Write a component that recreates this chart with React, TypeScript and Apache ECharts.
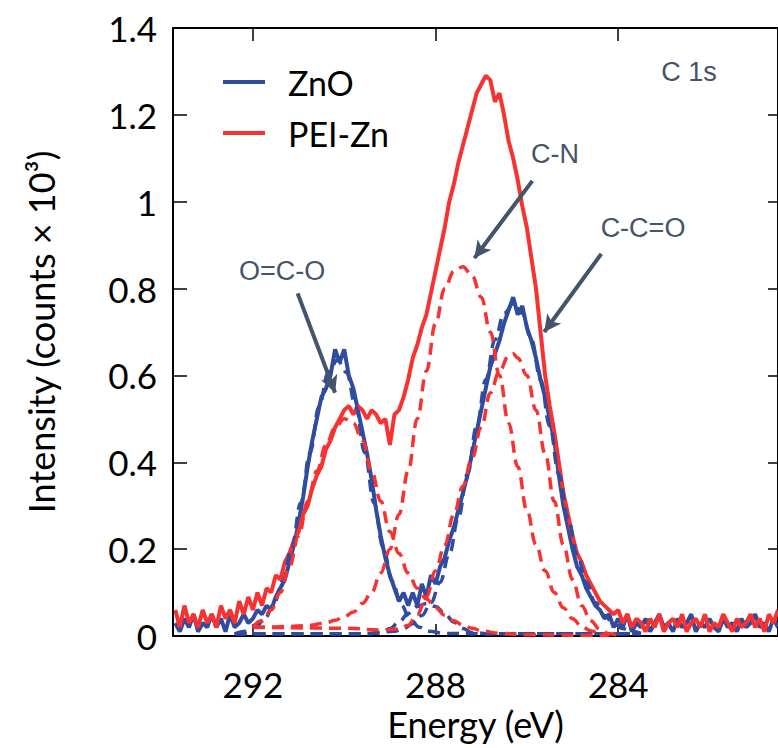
import React, { useEffect, useRef } from "react";
import * as echarts from "echarts";

// Energy grid of the measured spectra (eV), descending
const E_START = 293.7;
const E_STEP = 0.1;

const ZNO_COUNTS = [
  0.03, 0.01, 0.04, 0.02, 0.05, 0.01, 0.03, 0.02, 0.05, 0.02,
  0.04, 0.01, 0.05, 0.02, 0.03, 0.05, 0.03, 0.04, 0.06, 0.05,
  0.07, 0.06, 0.09, 0.11, 0.13, 0.17, 0.21, 0.26, 0.32, 0.39,
  0.45, 0.5, 0.55, 0.57, 0.6, 0.66, 0.63, 0.66, 0.6, 0.57,
  0.52, 0.47, 0.42, 0.36, 0.29, 0.23, 0.18, 0.14, 0.11, 0.08,
  0.1, 0.07, 0.1, 0.07, 0.12, 0.09, 0.14, 0.12, 0.16, 0.18,
  0.22, 0.25, 0.29, 0.33, 0.37, 0.42, 0.47, 0.52, 0.57, 0.62,
  0.65, 0.68, 0.72, 0.75, 0.78, 0.74, 0.76, 0.71, 0.68, 0.64,
  0.59, 0.55, 0.5, 0.45, 0.37, 0.3, 0.25, 0.2, 0.16, 0.14,
  0.11, 0.09, 0.07, 0.06, 0.04, 0.05, 0.02, 0.04, 0.02, 0.05,
  0.01, 0.03, 0.02, 0.04, 0.01, 0.03, 0.05, 0.02, 0.03, 0.01,
  0.04, 0.02, 0.03, 0.05, 0.01, 0.03, 0.02, 0.04, 0.02, 0.01,
  0.04, 0.02, 0.03, 0.01, 0.04, 0.02, 0.03, 0.05, 0.02, 0.03,
  0.01, 0.04, 0.02,
];

const PEI_COUNTS = [
  0.06, 0.02, 0.07, 0.03, 0.05, 0.02, 0.06, 0.03, 0.05, 0.02,
  0.07, 0.04, 0.06, 0.03, 0.08, 0.05, 0.09, 0.06, 0.1, 0.07,
  0.11, 0.1, 0.14, 0.13, 0.17, 0.19, 0.22, 0.24, 0.28, 0.3,
  0.34, 0.37, 0.39, 0.43, 0.45, 0.48, 0.5, 0.52, 0.53, 0.51,
  0.53, 0.52, 0.5, 0.52, 0.51, 0.49, 0.5, 0.44, 0.51, 0.52,
  0.55, 0.59, 0.64, 0.67, 0.71, 0.74, 0.79, 0.84, 0.89, 0.94,
  1.0, 1.04, 1.09, 1.13, 1.17, 1.21, 1.25, 1.27, 1.29, 1.28,
  1.23, 1.25, 1.2, 1.14, 1.1, 1.05, 0.99, 0.94, 0.87, 0.8,
  0.7, 0.6, 0.53, 0.47, 0.4, 0.33, 0.28, 0.23, 0.19, 0.17,
  0.14, 0.12, 0.1, 0.08, 0.07, 0.06, 0.05, 0.06, 0.03, 0.05,
  0.02, 0.04, 0.03, 0.01, 0.04, 0.02, 0.05, 0.01, 0.03, 0.04,
  0.02, 0.05, 0.01, 0.03, 0.04, 0.02, 0.05, 0.01, 0.03, 0.02,
  0.05, 0.03, 0.01, 0.04, 0.02, 0.03, 0.05, 0.02, 0.04, 0.01,
  0.05, 0.03, 0.06,
];

// Fitted components [energy, intensity]
const ZNO_FIT_OCO: [number, number][] = [
  [292.4, 0.005], [292.15, 0.011], [291.95, 0.02], [291.75, 0.038], [291.55, 0.071],
  [291.35, 0.126], [291.15, 0.205], [290.95, 0.307], [290.75, 0.422], [290.55, 0.529],
  [290.35, 0.607], [290.15, 0.635], [289.95, 0.607], [289.75, 0.529], [289.55, 0.422],
  [289.35, 0.307], [289.15, 0.205], [288.95, 0.126], [288.75, 0.071], [288.55, 0.038],
  [288.35, 0.02], [288.15, 0.011], [287.8, 0.006], [287.0, 0.005], [283.5, 0.005],
];
const ZNO_FIT_MID: [number, number][] = [
  [292.4, 0.005], [289.6, 0.005], [289.2, 0.008], [289.0, 0.017], [288.8, 0.032],
  [288.6, 0.052], [288.4, 0.068], [288.2, 0.075], [288.0, 0.068], [287.8, 0.052],
  [287.6, 0.032], [287.4, 0.017], [287.2, 0.008], [286.8, 0.005], [283.5, 0.005],
];
const ZNO_FIT_CCO: [number, number][] = [
  [292.4, 0.005], [289.5, 0.005], [288.9, 0.011], [288.7, 0.017], [288.5, 0.028],
  [288.3, 0.047], [288.1, 0.077], [287.9, 0.124], [287.7, 0.188], [287.5, 0.272],
  [287.3, 0.373], [287.1, 0.483], [286.9, 0.59], [286.7, 0.682], [286.5, 0.743],
  [286.3, 0.765], [286.1, 0.743], [285.9, 0.682], [285.7, 0.59], [285.5, 0.483],
  [285.3, 0.373], [285.1, 0.272], [284.9, 0.188], [284.7, 0.124], [284.5, 0.077],
  [284.3, 0.047], [284.1, 0.028], [283.9, 0.017], [283.7, 0.011], [283.5, 0.006],
];
const PEI_FIT_OCO: [number, number][] = [
  [292.0, 0.022], [291.8, 0.035], [291.6, 0.06], [291.4, 0.1], [291.2, 0.16],
  [291.0, 0.23], [290.8, 0.31], [290.6, 0.38], [290.4, 0.44], [290.2, 0.48],
  [290.0, 0.5], [289.8, 0.49], [289.6, 0.45], [289.4, 0.38], [289.2, 0.31],
  [289.0, 0.24], [288.8, 0.19], [288.6, 0.145], [288.4, 0.11], [288.2, 0.085],
  [288.0, 0.065], [287.8, 0.048], [287.6, 0.035], [287.4, 0.025], [287.2, 0.018],
  [287.0, 0.012], [286.6, 0.006], [286.0, 0.003], [285.0, 0.002], [284.2, 0.002],
];
const PEI_FIT_CN: [number, number][] = [
  [292.0, 0.02], [291.6, 0.021], [291.2, 0.022], [290.8, 0.024], [290.4, 0.03],
  [290.2, 0.036], [290.0, 0.045], [289.8, 0.055], [289.6, 0.075], [289.4, 0.1],
  [289.2, 0.145], [289.0, 0.2], [288.8, 0.28], [288.6, 0.38], [288.4, 0.5],
  [288.2, 0.61], [288.0, 0.72], [287.8, 0.8], [287.6, 0.84], [287.4, 0.85],
  [287.2, 0.83], [287.0, 0.78], [286.8, 0.7], [286.6, 0.6], [286.4, 0.49],
  [286.2, 0.39], [286.0, 0.29], [285.8, 0.21], [285.6, 0.15], [285.4, 0.1],
  [285.2, 0.065], [285.0, 0.04], [284.8, 0.022], [284.6, 0.012], [284.4, 0.005],
  [284.2, 0.002],
];
const PEI_FIT_CCO: [number, number][] = [
  [292.0, 0.02], [290.0, 0.018], [289.2, 0.014], [288.8, 0.016], [288.6, 0.025],
  [288.4, 0.05], [288.2, 0.09], [288.0, 0.15], [287.8, 0.21], [287.6, 0.28],
  [287.4, 0.345], [287.2, 0.41], [287.0, 0.48], [286.8, 0.56], [286.6, 0.61],
  [286.4, 0.645], [286.3, 0.65], [286.2, 0.64], [286.0, 0.6], [285.8, 0.52],
  [285.6, 0.42], [285.4, 0.31], [285.2, 0.21], [285.0, 0.13], [284.8, 0.07],
  [284.6, 0.035], [284.4, 0.015], [284.2, 0.005], [284.0, 0.002],
];

const X_TICKS = [292, 288, 284];
const X_MIN = 280.5;
const X_MAX = 293.75;

// Annotation arrows: [from, to] in data coordinates
const ARROWS: [number, number][][] = [
  [[291.02, 0.789], [290.2, 0.56]],
  [[285.88, 1.048], [287.15, 0.87]],
  [[284.37, 0.88], [285.62, 0.70]],
];
const LABELS = [
  { text: "C 1s", x: 689, y: 72 },
  { text: "C-N", x: 555, y: 154 },
  { text: "C-C=O", x: 643, y: 228 },
  { text: "O=C-O", x: 282, y: 271 },
];

const BLUE = "#2F4C9E";
const RED = "#F83131";
const NOTE = "#44546A";

function toPairs(values: number[]): [number, number][] {
  return values.map((v, i) => [Math.round((E_START - i * E_STEP) * 100) / 100, v]);
}

export default function App() {
  const ref = useRef<HTMLDivElement>(null);
  useEffect(() => {
    if (!ref.current) return;
    const chart = echarts.init(ref.current, null, { renderer: "svg" });
    const font = "Lato";
    const dashed = (name: string, data: [number, number][], color: string) => ({
      name,
      type: "line",
      data,
      smooth: 0.4,
      smoothMonotone: "x",
      symbol: "none",
      lineStyle: { color, width: 3.5, type: [12, 7] },
      silent: true,
      z: 3,
    });
    const option: any = {
      animation: false,
      backgroundColor: "#fff",
      grid: { left: 173, top: 28, right: -1, bottom: 112, containLabel: false },
      legend: {
        data: [
          { name: "ZnO", icon: "rect" },
          { name: "PEI-Zn", icon: "rect" },
        ],
        orient: "vertical",
        left: 223,
        top: 65,
        padding: 0,
        itemWidth: 42,
        itemHeight: 4,
        itemGap: 17,
        textStyle: { fontFamily: font, fontSize: 34, color: "#000", lineHeight: 34, padding: [0, 0, 0, 18] },
      },
      xAxis: [
        {
          type: "value",
          position: "bottom",
          min: X_MIN,
          max: X_MAX,
          inverse: true,
          name: "Energy (eV)",
          nameLocation: "middle",
          nameGap: 68,
          nameTextStyle: { fontFamily: font, fontSize: 36, color: "#000" },
          axisLine: { show: true, onZero: false, lineStyle: { color: "#000", width: 2 } },
          axisTick: { show: true, inside: true, length: 12, customValues: X_TICKS, lineStyle: { color: "#000", width: 1.5 } },
          axisLabel: { show: true, customValues: X_TICKS, fontFamily: font, fontSize: 35, color: "#000", margin: 30 },
          splitLine: { show: false },
        },
        {
          type: "value",
          position: "top",
          min: X_MIN,
          max: X_MAX,
          inverse: true,
          axisLine: { show: true, onZero: false, lineStyle: { color: "#000", width: 2 } },
          axisTick: { show: true, inside: true, length: 13, customValues: X_TICKS, lineStyle: { color: "#000", width: 1.5 } },
          axisLabel: { show: false },
          splitLine: { show: false },
        },
      ],
      yAxis: [
        {
          type: "value",
          position: "left",
          min: 0,
          max: 1.4,
          interval: 0.2,
          name: "Intensity (counts × 10³)",
          nameLocation: "middle",
          nameRotate: 90,
          nameGap: 114,
          nameTextStyle: { fontFamily: font, fontSize: 36, color: "#000" },
          axisLine: { show: true, lineStyle: { color: "#000", width: 2 } },
          axisTick: { show: true, inside: true, length: 14, lineStyle: { color: "#000", width: 1.5 } },
          axisLabel: { fontFamily: font, fontSize: 35, color: "#000", margin: 16 },
          splitLine: { show: false },
        },
        {
          type: "value",
          position: "right",
          min: 0,
          max: 1.4,
          interval: 0.2,
          axisLine: { show: true, lineStyle: { color: "#000", width: 2 } },
          axisTick: { show: true, inside: true, length: 10, lineStyle: { color: "#000", width: 1.5 } },
          axisLabel: { show: false },
          splitLine: { show: false },
        },
      ],
      series: [
        {
          name: "ZnO",
          type: "line",
          data: toPairs(ZNO_COUNTS),
          symbol: "none",
          lineStyle: { color: BLUE, width: 4 },
          itemStyle: { color: BLUE },
          z: 2,
        },
        {
          name: "PEI-Zn",
          type: "line",
          data: toPairs(PEI_COUNTS),
          symbol: "none",
          lineStyle: { color: RED, width: 4 },
          itemStyle: { color: RED },
          z: 2,
          markLine: {
            silent: true,
            symbol: ["none", "arrow"],
            symbolSize: [13, 17],
            label: { show: false },
            lineStyle: { color: NOTE, width: 4, type: "solid" },
            data: ARROWS.map(([a, b]) => [{ coord: a }, { coord: b }]),
          },
        },
        dashed("fit1", ZNO_FIT_OCO, BLUE),
        dashed("fit2", ZNO_FIT_MID, BLUE),
        dashed("fit3", ZNO_FIT_CCO, BLUE),
        dashed("fit4", PEI_FIT_OCO, RED),
        dashed("fit5", PEI_FIT_CN, RED),
        dashed("fit6", PEI_FIT_CCO, RED),
      ],
      graphic: LABELS.map((l) => ({
        type: "text",
        x: l.x,
        y: l.y,
        silent: true,
        style: {
          text: l.text,
          fontFamily: "Liberation Sans",
          fontSize: 27,
          fill: NOTE,
          align: "center",
          verticalAlign: "middle",
        },
      })),
    };
    chart.setOption(option);
    return () => chart.dispose();
  }, []);
  return <div ref={ref} style={{ position: "absolute", left: 0, top: 0, width: 778, height: 748 }} />;
}
